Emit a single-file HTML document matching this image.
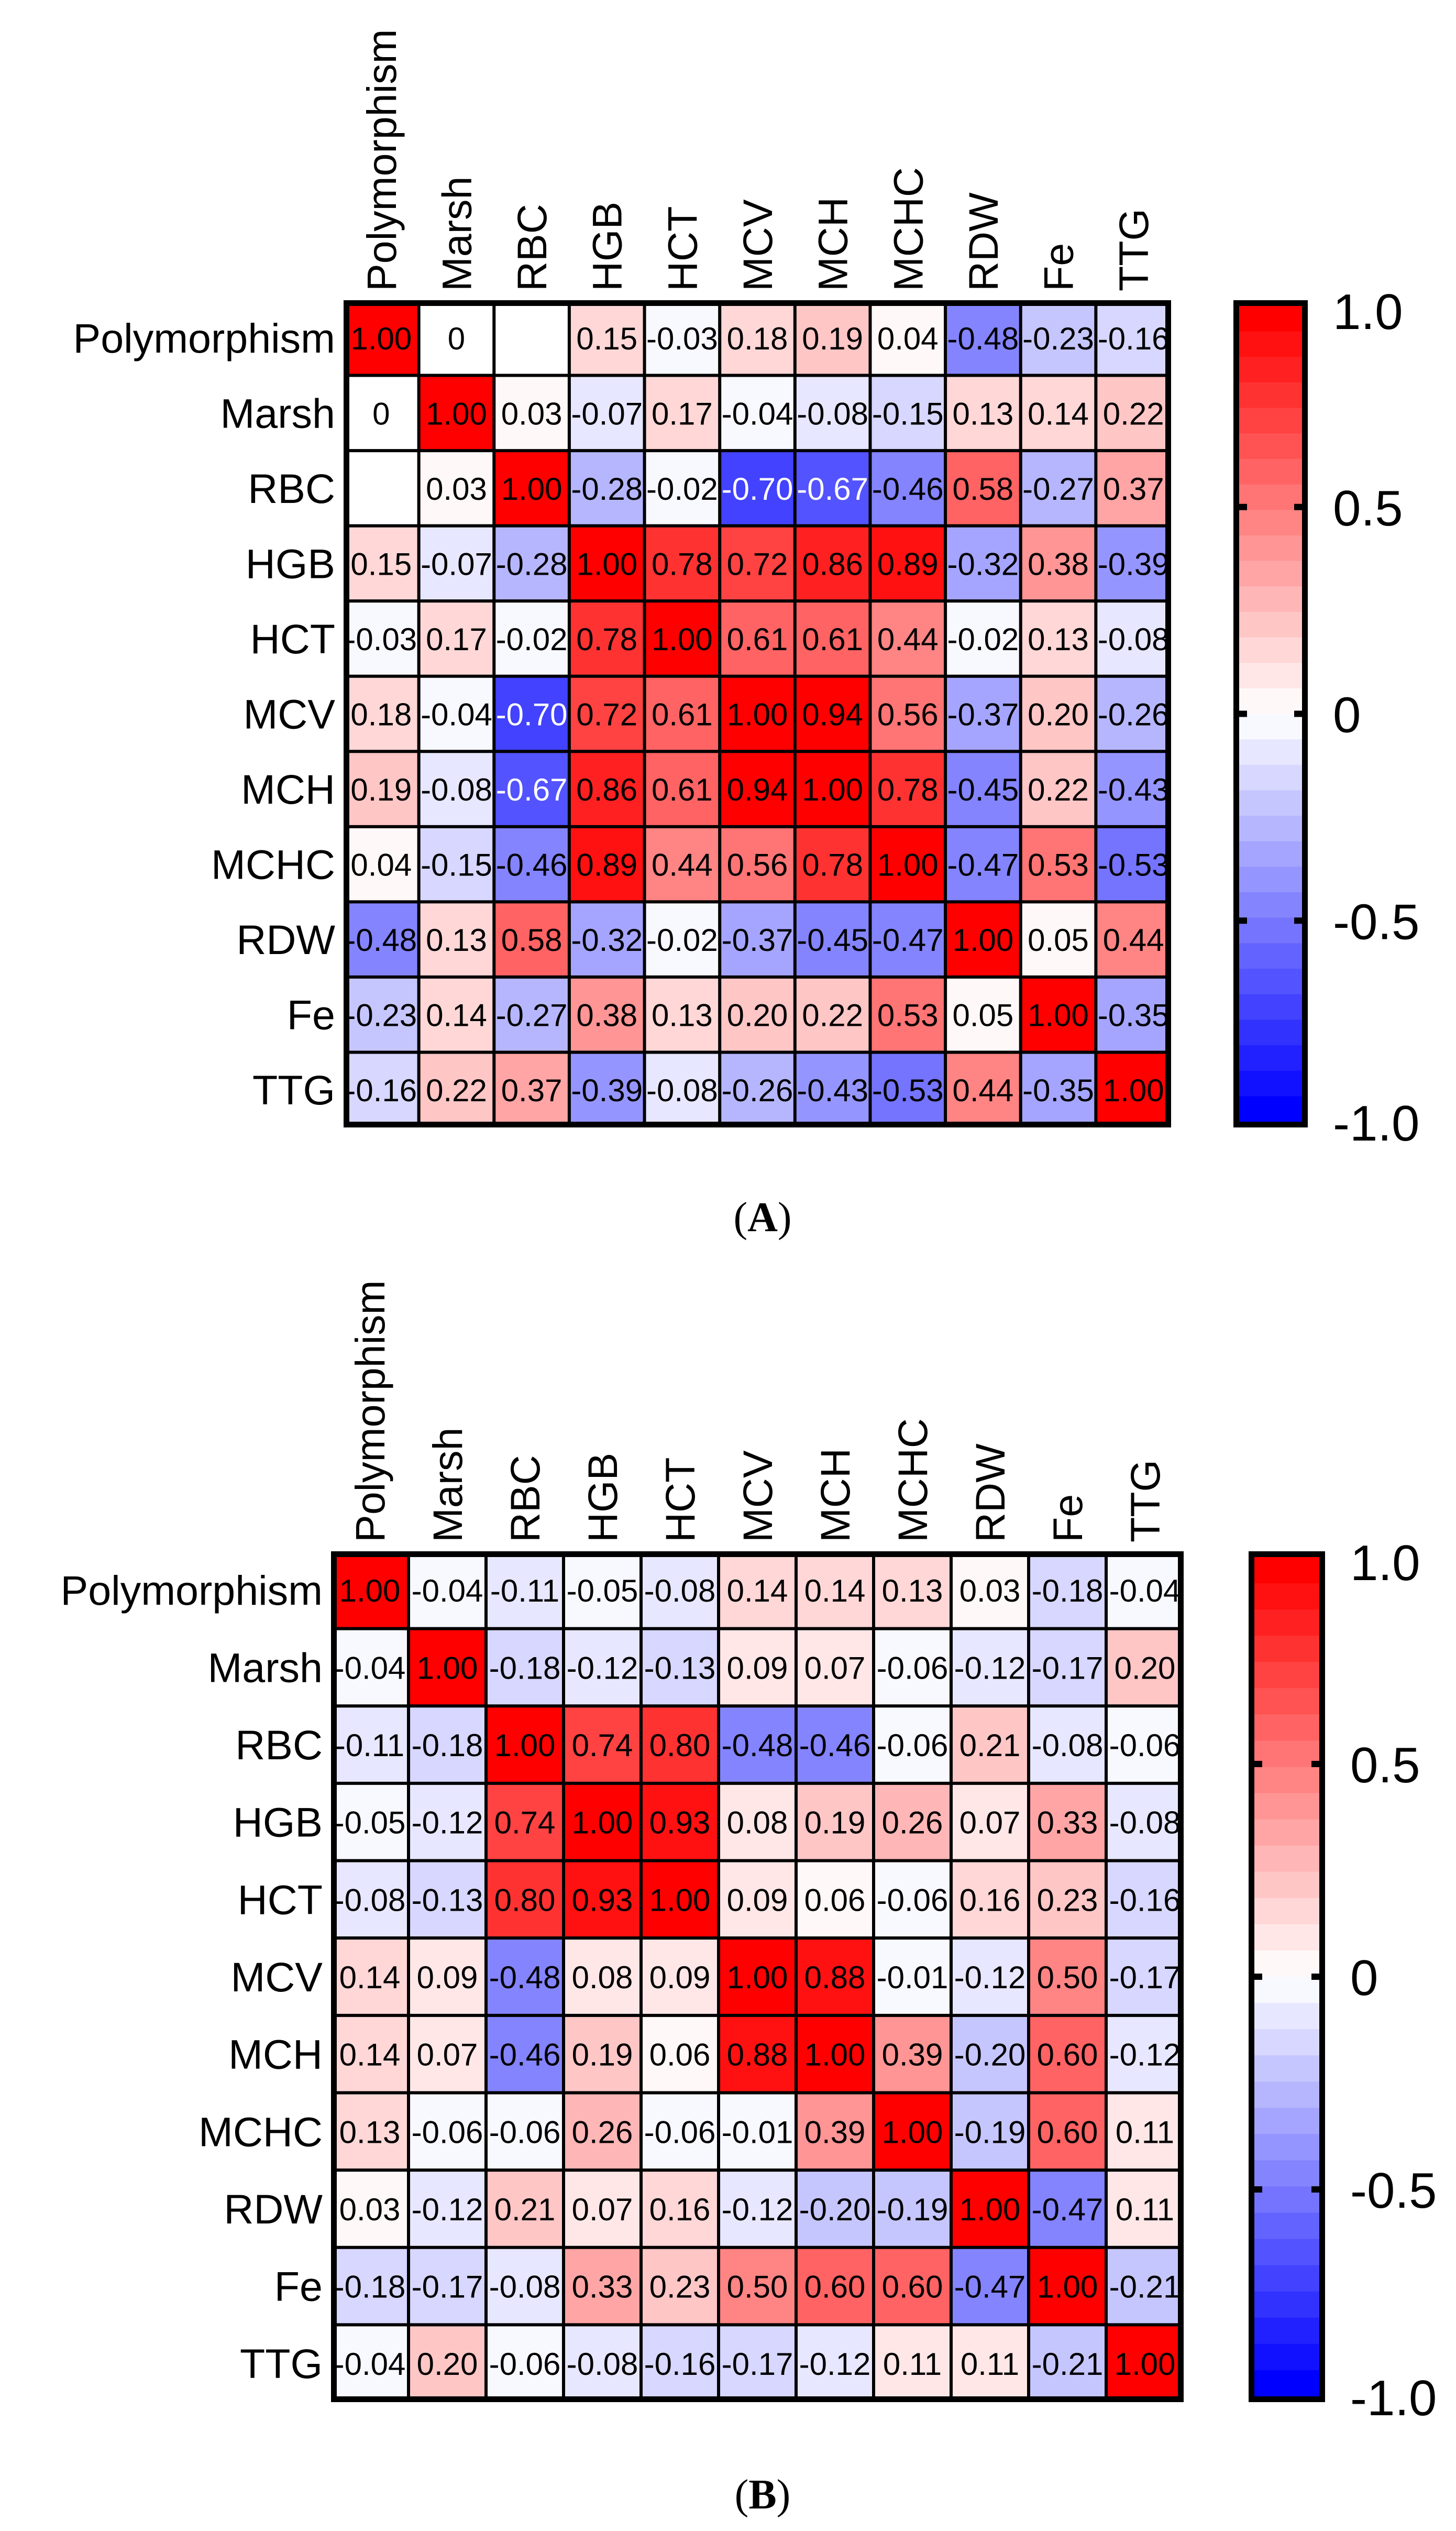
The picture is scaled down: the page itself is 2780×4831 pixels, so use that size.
<!DOCTYPE html>
<html><head><meta charset="utf-8">
<style>
html,body{margin:0;padding:0;background:#fff;}
svg{display:block;}
text{font-family:"Liberation Sans",Arial,sans-serif;}
</style></head>
<body>
<svg id="fig" xmlns="http://www.w3.org/2000/svg" width="2780" height="4831" viewBox="0 0 2780 4831"></svg>
<script>
const labels = ["Polymorphism","Marsh","RBC","HGB","HCT","MCV","MCH","MCHC","RDW","Fe","TTG"];
const valuesA = [
 [1.00,0,null,0.15,-0.03,0.18,0.19,0.04,-0.48,-0.23,-0.16],
 [0,1.00,0.03,-0.07,0.17,-0.04,-0.08,-0.15,0.13,0.14,0.22],
 [null,0.03,1.00,-0.28,-0.02,-0.70,-0.67,-0.46,0.58,-0.27,0.37],
 [0.15,-0.07,-0.28,1.00,0.78,0.72,0.86,0.89,-0.32,0.38,-0.39],
 [-0.03,0.17,-0.02,0.78,1.00,0.61,0.61,0.44,-0.02,0.13,-0.08],
 [0.18,-0.04,-0.70,0.72,0.61,1.00,0.94,0.56,-0.37,0.20,-0.26],
 [0.19,-0.08,-0.67,0.86,0.61,0.94,1.00,0.78,-0.45,0.22,-0.43],
 [0.04,-0.15,-0.46,0.89,0.44,0.56,0.78,1.00,-0.47,0.53,-0.53],
 [-0.48,0.13,0.58,-0.32,-0.02,-0.37,-0.45,-0.47,1.00,0.05,0.44],
 [-0.23,0.14,-0.27,0.38,0.13,0.20,0.22,0.53,0.05,1.00,-0.35],
 [-0.16,0.22,0.37,-0.39,-0.08,-0.26,-0.43,-0.53,0.44,-0.35,1.00]
];
const valuesB = [
 [1.00,-0.04,-0.11,-0.05,-0.08,0.14,0.14,0.13,0.03,-0.18,-0.04],
 [-0.04,1.00,-0.18,-0.12,-0.13,0.09,0.07,-0.06,-0.12,-0.17,0.20],
 [-0.11,-0.18,1.00,0.74,0.80,-0.48,-0.46,-0.06,0.21,-0.08,-0.06],
 [-0.05,-0.12,0.74,1.00,0.93,0.08,0.19,0.26,0.07,0.33,-0.08],
 [-0.08,-0.13,0.80,0.93,1.00,0.09,0.06,-0.06,0.16,0.23,-0.16],
 [0.14,0.09,-0.48,0.08,0.09,1.00,0.88,-0.01,-0.12,0.50,-0.17],
 [0.14,0.07,-0.46,0.19,0.06,0.88,1.00,0.39,-0.20,0.60,-0.12],
 [0.13,-0.06,-0.06,0.26,-0.06,-0.01,0.39,1.00,-0.19,0.60,0.11],
 [0.03,-0.12,0.21,0.07,0.16,-0.12,-0.20,-0.19,1.00,-0.47,0.11],
 [-0.18,-0.17,-0.08,0.33,0.23,0.50,0.60,0.60,-0.47,1.00,-0.21],
 [-0.04,0.20,-0.06,-0.08,-0.16,-0.17,-0.12,0.11,0.11,-0.21,1.00]
];
const cbTicks = [1.0,0.5,0,-0.5,-1.0];
const cbTickLabels = ["1.0","0.5","0","-0.5","-1.0"];

const NS="http://www.w3.org/2000/svg";
const svg=document.getElementById('fig');
function mk(tag,attrs,parent){const e=document.createElementNS(NS,tag);for(const k in attrs)e.setAttribute(k,attrs[k]);(parent||svg).appendChild(e);return e;}
function color(v){
  if(v===null) return '#ffffff';
  const a=Math.min(1,Math.abs(v));
  let k=Math.floor((1-a)*16); if(k>15)k=16;
  const c=Math.min(255,Math.round(k*16.5));
  return v>=0?`rgb(255,${c},${c})`:`rgb(${c},${c},255)`;
}
function fmt(v){return v===0?"0":v.toFixed(2);}

function panel(id,vals,g){
  const grp=mk('g',{});
  
  
  const n=labels.length;
  const pw=(g.x1-g.x0)/n, ph=(g.y1-g.y0)/n;
  const xs=i=>g.x0+i*pw, ys=i=>g.y0+i*ph;
  for(let r=0;r<n;r++)for(let c=0;c<n;c++){
    const v=vals[r][c];
    const rect=mk('rect',{x:xs(c),y:ys(r),width:pw,height:ph,fill:color(v)},grp);
    
    
    if(v!==null){
      const t=mk('text',{x:xs(c)+pw/2,y:ys(r)+ph/2+22,'text-anchor':'middle','font-size':60,fill:(v<-0.6?'#fff':'#000')},grp);
      t.textContent=fmt(v);
      
      
    }
  }
  for(let i=1;i<n;i++){
    mk('line',{x1:xs(i),y1:g.y0,x2:xs(i),y2:g.y1,stroke:'#000','stroke-width':6},grp);
    mk('line',{x1:g.x0,y1:ys(i),x2:g.x1,y2:ys(i),stroke:'#000','stroke-width':6},grp);
  }
  mk('rect',{x:g.x0+5.5,y:g.y0+5.5,width:g.x1-g.x0-11,height:g.y1-g.y0-11,fill:'none',stroke:'#000','stroke-width':11},grp);
  for(let i=0;i<n;i++){
    const t=mk('text',{x:g.x0-16,y:ys(i)+ph/2+28,'text-anchor':'end','font-size':79},grp);
    t.textContent=labels[i];
    
    
    const cx=xs(i)+pw/2+28, cy=g.y0-17;
    const t2=mk('text',{x:cx,y:cy,'font-size':79,transform:`rotate(-90 ${cx} ${cy})`},grp);
    t2.textContent=labels[i];
    
    
  }
  const cb=mk('g',{},grp);
  
  
  const bx0=g.cx0,bx1=g.cx1,by0=g.y0+11,by1=g.y1-11;
  const nb=32,bh=(by1-by0)/nb;
  for(let i=0;i<nb;i++){
    const v=1-(i+0.5)/16;
    mk('rect',{x:bx0,y:by0+i*bh,width:bx1-bx0,height:bh+0.6,fill:color(v)},cb);
  }
  mk('rect',{x:bx0+5.5,y:g.y0+5.5,width:bx1-bx0-11,height:g.y1-g.y0-11,fill:'none',stroke:'#000','stroke-width':11},cb);
  const vy=v=>g.y0+(1-v)/2*(g.y1-g.y0);
  cbTicks.forEach((v,i)=>{
    const y=vy(v);
    if(Math.abs(v)<1){
      mk('rect',{x:bx0+8,y:y-6,width:18,height:12,fill:'#000'},cb);
      mk('rect',{x:bx1-26,y:y-6,width:18,height:12,fill:'#000'},cb);
    }
    let cy=y; if(v===1)cy=y+20; if(v===-1)cy=y-10;
    const t=mk('text',{x:bx1+48,y:cy+35,'font-size':96},cb);
    t.textContent=cbTickLabels[i];
    
    
  });
  const pl=mk('text',{x:(g.x0+g.x1)/2+10,y:g.ly,'text-anchor':'middle','font-size':80,style:'font-family:"Liberation Serif",serif'},grp);
  pl.innerHTML='(<tspan font-weight="bold">'+id+'</tspan>)';
  
  
}
panel('A',valuesA,{x0:656,x1:2236,y0:573,y1:2152,cx0:2355,cx1:2497,ly:2350});
panel('B',valuesB,{x0:632,x1:2260,y0:2961,y1:4585,cx0:2384,cx1:2530,ly:4788});
</script>
</body></html>
